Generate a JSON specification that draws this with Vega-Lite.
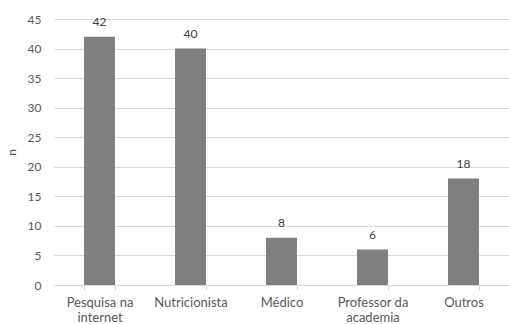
{
  "$schema": "https://vega.github.io/schema/vega-lite/v6.json",
  "width": 455,
  "height": 266,
  "autosize": "none",
  "padding": {"left": 54, "top": 19, "right": 0, "bottom": 39},
  "background": "white",
  "config": {
    "view": {"stroke": null},
    "font": "Lato",
    "axis": {"labelFont": "Lato", "titleFont": "Lato", "labelColor": "#595959", "titleColor": "#595959", "labelFontSize": 12, "titleFontSize": 12, "titleFontWeight": "normal"}
  },
  "data": {
    "values": [
      {"fonte": "Pesquisa na internet", "n": 42},
      {"fonte": "Nutricionista", "n": 40},
      {"fonte": "Médico", "n": 8},
      {"fonte": "Professor da academia", "n": 6},
      {"fonte": "Outros", "n": 18}
    ]
  },
  "encoding": {
    "x": {
      "field": "fonte", "type": "nominal", "sort": null,
      "scale": {"paddingInner": 0.66, "paddingOuter": 0.33},
      "axis": {
        "title": null, "labelAngle": 0, "tickBand": "extent", "tickColor": "#d9d9d9", "tickSize": 5,
        "domainColor": "#d9d9d9", "labelPadding": 6, "labelLineHeight": 15, "labelFontSize": 13,
        "labelExpr": "datum.label == 'Pesquisa na internet' ? ['Pesquisa na', 'internet'] : datum.label == 'Professor da academia' ? ['Professor da', 'academia'] : datum.label"
      }
    },
    "y": {
      "field": "n", "type": "quantitative",
      "scale": {"domain": [0, 45]},
      "axis": {"title": "n", "values": [0,5,10,15,20,25,30,35,40,45], "ticks": false, "domain": false, "gridColor": "#d9d9d9", "labelPadding": 13, "titlePadding": 9}
    }
  },
  "layer": [
    {"mark": {"type": "bar", "color": "#7f7f7f"}},
    {"mark": {"type": "text", "baseline": "alphabetic", "dy": -11, "fontSize": 12, "color": "#404040", "font": "Lato"}, "encoding": {"text": {"field": "n", "type": "quantitative"}}}
  ]
}
